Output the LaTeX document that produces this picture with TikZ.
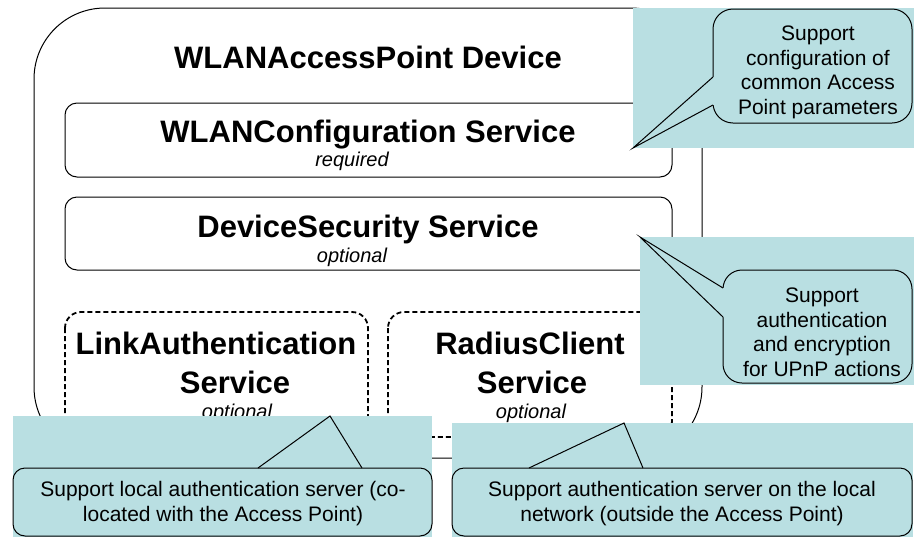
\documentclass[tikz,border=0pt]{standalone}
\usepackage{fontspec}
\setmainfont{Liberation Sans}
\definecolor{notefill}{RGB}{185,223,226}
\begin{document}
\begin{tikzpicture}[x=1pt, y=-1pt, line width=1pt,
    heading/.style={font=\fontsize{31}{34}\selectfont\bfseries, anchor=base, inner sep=0pt},
    status/.style={font=\fontsize{20}{24}\selectfont\itshape, anchor=base, inner sep=0pt},
    notetext/.style={font=\fontsize{21}{24.5}\selectfont, anchor=base, inner sep=0pt, align=center},
    optbox/.style={line width=1.8pt, dash pattern=on 5pt off 3pt, rounded corners=16}]
    \useasboundingbox (0,0) rectangle (914,539);
    % device
    \draw [rounded corners=71] (34,8) rectangle (702,458);
    \node (devname) [heading] at (368,68) {WLANAccessPoint Device};
    % services
    \draw [rounded corners=12] (65,103) rectangle (672,177);
    \node (cfgname) [heading] at (368,142) {WLANConfiguration Service};
    \node (cfgstatus) [status] at (352,166) {required};
    \draw [rounded corners=12] (65,197) rectangle (672,270);
    \node (secname) [heading] at (368,237) {DeviceSecurity Service};
    \node (secstatus) [status] at (352,262) {optional};
    \draw [optbox] (65,312) rectangle (368,437);
    \node (linkname) [heading] at (216,354) {LinkAuthentication};
    \node (linkname2) [heading] at (235,393) {Service};
    \node (linkstatus) [status] at (237,418) {optional};
    \draw [optbox] (388,312) rectangle (672,437);
    \node (radname) [heading] at (530,354) {RadiusClient};
    \node (radname2) [heading] at (532,393) {Service};
    \node (radstatus) [status] at (531,418) {optional};
    % notes (base = last line)
    \fill [notefill] (633,8) rectangle (914,148);
    \draw [fill=notefill, rounded corners=20] (713,9) rectangle (912,123);
    \fill [notefill] (633,148) -- (713,77) -- (714.5,77) -- (714.5,105) -- (713,105) -- cycle;
    \draw (713,77) -- (633,148) -- (713,105);
    \node (cfgnote) [notetext] at (818,114) {Support\\configuration of\\common Access\\Point parameters};
    \fill [notefill] (640,237) rectangle (914,385);
    \draw [fill=notefill, rounded corners=19] (723,270) rectangle (912,383);
    \fill [notefill] (640,237) -- (723,288) -- (724.5,288) -- (724.5,317) -- (723,317) -- cycle;
    \draw (723,288) -- (640,237) -- (723,317);
    \node (secnote) [notetext] at (822,376) {Support\\authentication\\and encryption\\for UPnP actions};
    \fill [notefill] (13,416) rectangle (432,537);
    \draw [fill=notefill, rounded corners=12] (13,468) rectangle (432,536);
    \fill [notefill] (330,416) -- (258,468) -- (258,466.5) -- (362,466.5) -- (362,468) -- cycle;
    \draw (258,468) -- (330,416) -- (362,468);
    \node (linknote) [notetext] at (223,521) {Support local authentication server (co-\\located with the Access Point)};
    \fill [notefill] (452,423) rectangle (913,537);
    \draw [fill=notefill, rounded corners=12] (452,468) rectangle (912,536);
    \fill [notefill] (624,423) -- (529,468) -- (529,466.5) -- (643,466.5) -- (643,468) -- cycle;
    \draw (529,468) -- (624,423) -- (643,468);
    \node (radnote) [notetext] at (682,521) {Support authentication server on the local\\network (outside the Access Point)};
\end{tikzpicture}
\end{document}
